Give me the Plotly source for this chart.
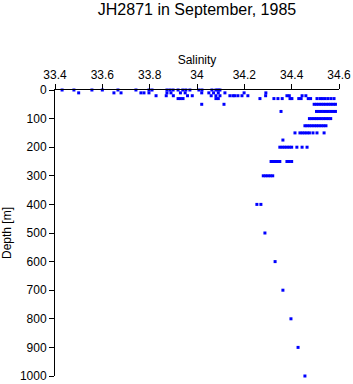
import plotly.graph_objects as go

# Observations: (depth level [m], salinities at that level)
depth_levels = [0, 10, 20, 30, 50, 75, 100, 125, 150, 175, 200, 250, 300, 400, 500, 600, 700, 800, 900, 1000]
sal_0 = [33.43, 33.48, 33.556, 33.60, 33.666, 33.742, 33.797, 33.81, 33.873, 33.886, 33.899,
         33.92, 33.94, 33.953, 33.97, 34.008, 34.021, 34.063, 34.08, 34.089, 34.097]
sal_10 = [33.50, 33.649, 33.679, 33.763, 33.776, 33.797, 33.873, 33.89, 33.93, 33.95, 34.02,
          34.05, 34.07, 34.09, 34.118, 34.199, 34.291]
sal_20 = [33.827, 33.87, 33.90, 33.96, 33.98, 34.06, 34.08, 34.097, 34.139, 34.152, 34.16,
          34.173, 34.19, 34.215, 34.29, 34.38, 34.39, 34.444, 34.46]
sal_30 = [33.92, 33.93, 33.941, 34.08, 34.09, 34.266, 34.325, 34.342, 34.36, 34.393, 34.401,
          34.43, 34.44, 34.47, 34.48, 34.507, 34.52, 34.53, 34.541, 34.553, 34.566, 34.579]
sal_50 = [34.02, 34.114, 34.495, 34.505, 34.515, 34.525, 34.535, 34.545, 34.555, 34.565, 34.575, 34.585]
sal_75 = [34.355, 34.505, 34.515, 34.525, 34.535, 34.545, 34.555, 34.565, 34.575, 34.585]
sal_100 = [34.475, 34.485, 34.495, 34.505, 34.515, 34.525, 34.535, 34.545, 34.555, 34.565]
sal_125 = [34.456, 34.465, 34.475, 34.485, 34.495, 34.505, 34.515, 34.525, 34.535, 34.545]
sal_150 = [34.414, 34.435, 34.445, 34.455, 34.465, 34.475, 34.49, 34.507, 34.537]
sal_175 = [34.363]
sal_200 = [34.35, 34.36, 34.37, 34.38, 34.39, 34.40, 34.422, 34.444, 34.465]
sal_250 = [34.313, 34.32, 34.33, 34.34, 34.35, 34.38, 34.39, 34.40]
sal_300 = [34.28, 34.29, 34.30, 34.31, 34.32]
sal_400 = [34.253, 34.27]
sal_500 = [34.287]
sal_600 = [34.33]
sal_700 = [34.363]
sal_800 = [34.397]
sal_900 = [34.427]
sal_1000 = [34.456]

sal_by_level = [sal_0, sal_10, sal_20, sal_30, sal_50, sal_75, sal_100, sal_125, sal_150, sal_175,
                sal_200, sal_250, sal_300, sal_400, sal_500, sal_600, sal_700, sal_800, sal_900, sal_1000]

salinity = []
depth = []
for d, sals in zip(depth_levels, sal_by_level):
    for s in sals:
        salinity.append(s)
        depth.append(d)

x_ticks = [33.4, 33.6, 33.8, 34.0, 34.2, 34.4, 34.6]
x_tick_labels = ["33.4", "33.6", "33.8", "34", "34.2", "34.4", "34.6"]
y_ticks = list(range(0, 1001, 100))

fig = go.Figure(go.Scatter(
    x=salinity, y=depth, mode="markers",
    marker=dict(symbol="square", size=3, color="#0000ff", line=dict(width=0)),
    hoverinfo="x+y", cliponaxis=False,
))

font = "Liberation Sans, Arial, sans-serif"
fig.update_layout(
    width=353, height=384,
    margin=dict(l=55, r=14, t=90, b=8, pad=0),
    paper_bgcolor="white", plot_bgcolor="white",
    showlegend=False,
    font=dict(family=font, size=12, color="black"),
    title=dict(text="JH2871 in September, 1985", x=0.5, xref="paper", xanchor="center",
               y=1 - 9 / 384, yref="container", yanchor="middle",
               font=dict(family=font, size=16, color="black")),
    xaxis=dict(side="top", range=[33.4, 34.6], tickvals=x_ticks, ticktext=x_tick_labels,
               ticks="outside", ticklen=5, tickcolor="black", showline=True, linecolor="black",
               linewidth=1, showgrid=False, zeroline=False, automargin=False,
               title=dict(text="Salinity", standoff=1, font=dict(size=12))),
    yaxis=dict(range=[1000, 0], tickvals=y_ticks, ticks="outside", ticklen=5, tickcolor="black",
               showline=True, linecolor="black", linewidth=1, showgrid=False, zeroline=False,
               automargin=False,
               title=dict(text="Depth [m]", standoff=6, font=dict(size=12))),
)

fig.write_html("out.html")
